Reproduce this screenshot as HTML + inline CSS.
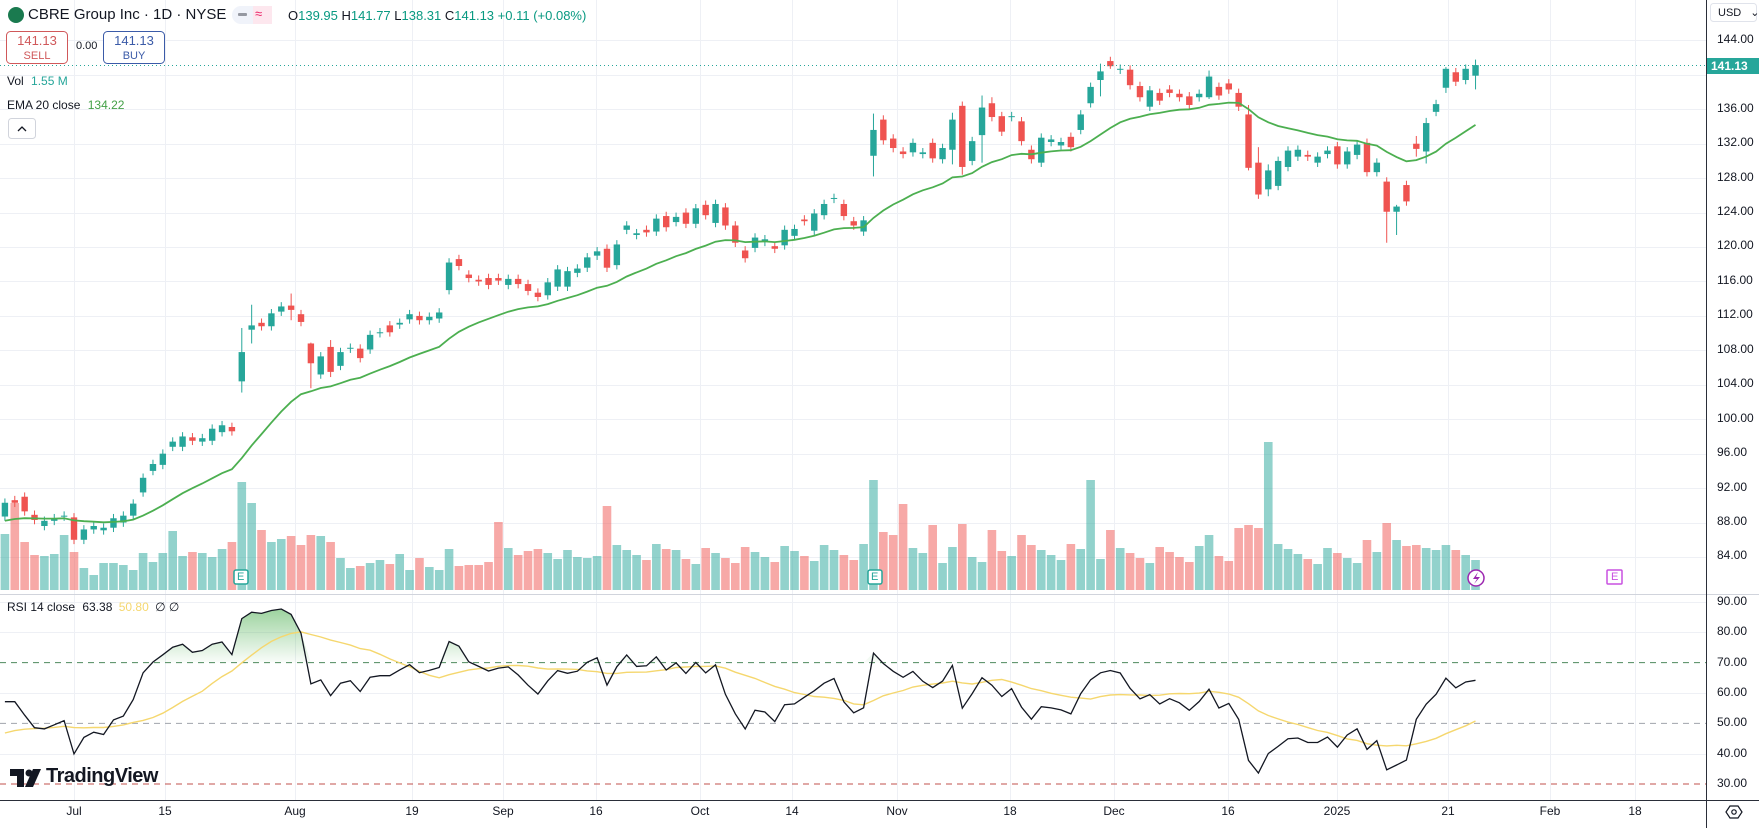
<!DOCTYPE html>
<html><head><meta charset="utf-8">
<style>
html,body{margin:0;padding:0;background:#fff;}
body{width:1759px;height:828px;position:relative;overflow:hidden;font-family:"Liberation Sans",sans-serif;color:#131722;}
.t{position:absolute;white-space:nowrap;}
.ax{position:absolute;left:1717px;font-size:12px;color:#131722;}
.tl{position:absolute;top:804px;font-size:12px;color:#131722;transform:translateX(-50%);}
svg{position:absolute;left:0;top:0;}
</style></head><body>
<svg id="s" width="1759" height="828" xmlns="http://www.w3.org/2000/svg">
<defs>
<linearGradient id="gf" x1="0" y1="0" x2="0" y2="1">
<stop offset="0" stop-color="#4caf50" stop-opacity="0.55"/>
<stop offset="1" stop-color="#4caf50" stop-opacity="0.03"/>
</linearGradient>
<clipPath id="cp"><rect x="0" y="0" width="1706" height="800"/></clipPath>
</defs>
<g id="grid"></g>
<g id="vol" clip-path="url(#cp)"></g>
<g id="rsi" clip-path="url(#cp)"></g>
<g id="cdl" clip-path="url(#cp)"></g>
<line x1="0" y1="594.5" x2="1759" y2="594.5" stroke="#d1d4dc" stroke-width="1"/>
<line x1="1706.5" y1="0" x2="1706.5" y2="828" stroke="#2a2e39" stroke-width="1"/>
<line x1="0" y1="800.5" x2="1759" y2="800.5" stroke="#2a2e39" stroke-width="1"/>
<line x1="0" y1="65.5" x2="1706" y2="65.5" stroke="#26a69a" stroke-width="1" stroke-dasharray="1,3"/>
<rect x="1707" y="58" width="52" height="16" fill="#26a69a"/>
<rect x="234" y="570" width="14" height="14" rx="2" fill="#fff" stroke="#26a69a" stroke-width="1.5"/>
<rect x="868" y="570" width="14" height="14" rx="2" fill="#fff" stroke="#26a69a" stroke-width="1.5"/>
<rect x="1607" y="570" width="15" height="14" rx="1" fill="#fff" stroke="#c850e0" stroke-width="1.5"/>
<circle cx="1476" cy="578" r="8" fill="#fff" stroke="#9c27b0" stroke-width="1.5"/>
<path d="M1478 572 L1473 579 L1477 579 L1474 584 L1480 577 L1476 577 Z" fill="#9c27b0"/>
<circle cx="16" cy="15" r="8" fill="#1a7a4f"/>
<rect x="232" y="6" width="40" height="18" rx="9" fill="#f0f3fa"/>
<rect x="253" y="6" width="19" height="18" rx="0" fill="#fde7ee"/>
<rect x="238" y="13" width="9" height="3" rx="1" fill="#9598a1"/>
<rect x="6.5" y="31.5" width="61" height="32" rx="4" fill="#fff" stroke="#d0585a"/>
<rect x="103.5" y="31.5" width="61" height="32" rx="4" fill="#fff" stroke="#3b5ba8"/>
<rect x="8.5" y="118.5" width="27" height="20" rx="3" fill="#fff" stroke="#d1d4dc"/>
<path d="M18 131 L22 127 L26 131" fill="none" stroke="#131722" stroke-width="1.3"/>
<rect x="1710.5" y="3.5" width="46" height="18" rx="3" fill="#fff" stroke="#e0e3eb"/>
<path d="M1726 812 L1730 806 L1738 806 L1742 812 L1738 818 L1730 818 Z" fill="none" stroke="#131722" stroke-width="1.2"/>
<circle cx="1734" cy="812" r="2.2" fill="none" stroke="#131722" stroke-width="1.2"/>
<path d="M10 769 h14 v18 h-7 v-11 h-7 z" fill="#131722"/>
<circle cx="29" cy="773" r="3.5" fill="#131722"/>
<path d="M33 769 h8 l-8 18 h-8 z" fill="#131722"/>
</svg>

<div class="t" style="left:28px;top:6px;font-size:15px;">CBRE Group Inc · 1D · NYSE</div>
<div class="t" style="left:255px;top:6px;font-size:13px;color:#e91e63;">≈</div>
<div class="t" style="left:288px;top:8px;font-size:13px;">O<span style="color:#089981">139.95</span> H<span style="color:#089981">141.77</span> L<span style="color:#089981">138.31</span> C<span style="color:#089981">141.13</span> <span style="color:#089981">+0.11 (+0.08%)</span></div>
<div class="t" style="left:6px;top:34px;width:62px;text-align:center;font-size:13px;color:#d0585a;line-height:14px;">141.13<br><span style="font-size:11px">SELL</span></div>
<div class="t" style="left:76px;top:40px;font-size:11px;">0.00</div>
<div class="t" style="left:103px;top:34px;width:62px;text-align:center;font-size:13px;color:#3b5ba8;line-height:14px;">141.13<br><span style="font-size:11px">BUY</span></div>
<div class="t" style="left:7px;top:74px;font-size:12px;">Vol <span style="color:#26a69a;margin-left:4px">1.55 M</span></div>
<div class="t" style="left:7px;top:98px;font-size:12px;">EMA 20 close <span style="color:#43a047;margin-left:4px">134.22</span></div>
<div class="t" style="left:7px;top:600px;font-size:12px;">RSI 14 close <span style="margin-left:4px">63.38</span> <span style="color:#f5d76e;margin-left:3px">50.80</span> <span style="margin-left:3px">∅ ∅</span></div>
<div class="t" style="left:46px;top:765px;font-size:20px;font-weight:bold;color:#131722;letter-spacing:-0.5px;">TradingView</div>
<div class="t" style="left:1718px;top:6px;font-size:11px;">USD <span style="margin-left:6px">⌄</span></div>
<div class="t" style="left:1611px;top:571px;font-size:11px;color:#c850e0;">E</div>
<div class="t" style="left:237px;top:571px;font-size:11px;color:#26a69a;">E</div>
<div class="t" style="left:871px;top:571px;font-size:11px;color:#26a69a;">E</div>
<div class="t" style="left:1711px;top:59px;font-size:12px;font-weight:bold;color:#fff;">141.13</div>

<div class="ax" style="top:32px">144.00</div>
<div class="ax" style="top:101px">136.00</div>
<div class="ax" style="top:135px">132.00</div>
<div class="ax" style="top:170px">128.00</div>
<div class="ax" style="top:204px">124.00</div>
<div class="ax" style="top:238px">120.00</div>
<div class="ax" style="top:273px">116.00</div>
<div class="ax" style="top:307px">112.00</div>
<div class="ax" style="top:342px">108.00</div>
<div class="ax" style="top:376px">104.00</div>
<div class="ax" style="top:411px">100.00</div>
<div class="ax" style="top:445px">96.00</div>
<div class="ax" style="top:480px">92.00</div>
<div class="ax" style="top:514px">88.00</div>
<div class="ax" style="top:548px">84.00</div>
<div class="ax" style="top:594px">90.00</div>
<div class="ax" style="top:624px">80.00</div>
<div class="ax" style="top:655px">70.00</div>
<div class="ax" style="top:685px">60.00</div>
<div class="ax" style="top:715px">50.00</div>
<div class="ax" style="top:746px">40.00</div>
<div class="ax" style="top:776px">30.00</div>

<div class="tl" style="left:74px">Jul</div>
<div class="tl" style="left:165px">15</div>
<div class="tl" style="left:295px">Aug</div>
<div class="tl" style="left:412px">19</div>
<div class="tl" style="left:503px">Sep</div>
<div class="tl" style="left:596px">16</div>
<div class="tl" style="left:700px">Oct</div>
<div class="tl" style="left:792px">14</div>
<div class="tl" style="left:897px">Nov</div>
<div class="tl" style="left:1010px">18</div>
<div class="tl" style="left:1114px">Dec</div>
<div class="tl" style="left:1228px">16</div>
<div class="tl" style="left:1337px">2025</div>
<div class="tl" style="left:1448px">21</div>
<div class="tl" style="left:1550px">Feb</div>
<div class="tl" style="left:1635px">18</div>

<script>
(function(){
var NS="http://www.w3.org/2000/svg";
function el(p,t,a){var e=document.createElementNS(NS,t);for(var k in a)e.setAttribute(k,a[k]);p.appendChild(e);return e;}
var oc=[[88.7,90.3],[90.6,90.3],[91,89.3],[88.9,88.3],[87.6,88.2],[88.2,88.5],[88.7,88.8],
[88.6,86],[86,87.2],[87.2,87.6],[87.1,87.4],[87.4,88.5],[88,88.8],[88.8,90.2],[91.5,93.2],[94,94.8],[94.7,96],
[96.8,97.4],[96.8,98],[97.9,97.5],[97.4,97.8],[97.5,98.9],[98.5,99.3],[99.1,98.6],[104.4,107.8],[110.4,110.9],
[111.2,110.8],[110.8,112.3],[112.5,113.1],[113.2,112.7],[112.2,111.3],[108.8,106.5],[105.2,107.3],[108.4,105.5],
[106.2,107.8],[108.2,108.3],[108.2,107.1],[108.1,109.8],[110,110.1],[110.9,110.1],[111,111.2],[111.6,112.2],
[112,111.5],[111.5,111.9],[111.7,112.4],[115,118.2],[118.6,117.8],[116.8,116.4],[116.2,116],[116.4,115.6],
[116.4,116.1],[115.6,116.3],[116.3,115.7],[115.7,114.9],[114.7,114.2],[114.4,115.9],[115.4,117.4],[115.4,117.2],
[117,117.5],[117.6,118.8],[119,119.5],[119.8,117.6],[117.9,120.3],[122,122.5],[121.4,121.6],[122,121.7],
[121.8,123.3],[123.6,122.3],[122.9,123.5],[124,122.7],[122.7,124.5],[124.9,123.7],[122.8,125],[124.6,122.5],
[122.5,120.5],[119.6,118.7],[119.9,121.1],[120.6,120.9],[120.1,119.8],[120.2,122],[121.3,122.1],[123.2,123],
[121.9,123.9],[123.7,125],[125.6,125.7],[125,123.6],[123,122.5],[121.8,123.1],[130.6,133.6],[134.8,132.4],
[132.6,131.5],[131.1,130.8],[131,132.1],[130.8,131],[132.1,130.3],[130.2,131.5],[131.3,134.8],[136.4,129.3],
[130,132.3],[133,136.2],[136.7,135.1],[135.2,133.4],[135.1,135.2],[134.6,132.3],[131.3,130.2],[129.8,132.7],
[132.2,132.5],[131.8,132.2],[132.8,131.6],[133.6,135.4],[136.7,138.6],[139.4,140.4],[141.6,141],[140.6,140.7],
[140.6,138.8],[138.7,137.4],[136.3,138.2],[137.9,137],[138.3,137.9],[137.8,137.4],[137.5,136.5],[137.4,137.8],
[137.4,139.8],[138.6,137.6],[139,138.3],[137.9,136.3],[135.4,129.2],[129.8,126.1],[126.7,128.9],[127.1,130],
[129.3,131.2],[130.5,131.3],[130.7,130.5],[129.8,130.5],[130.8,131.2],[131.7,129.6],[129.6,131.1],[130.7,131.9],
[132.1,128.7],[128.7,129.8],[127.6,124.1],[124.1,124.7],[127.2,125.3],[132,131.4],[131.1,134.4],[135.7,136.6],
[138.5,140.7],[140.3,139.2],[139.4,140.7],[139.9,141.13]];
var hlI={17:[110.6,103.1],18:[113.3,108.8],22:[114.6,111.5],24:[108.9,103.6],26:[109.2,104.9],81:[135.5,128.2],
89:[135.6,129.6],90:[136.9,128.4],92:[137.6,129.8],93:[137.4,134.6],119:[136.5,128.9],120:[131.6,125.6],121:[129.6,125.9],
133:[128.1,120.5],134:[124.9,121.4],136:[132.9,130.5],137:[135,129.7],139:[140.9,137.9],142:[141.77,138.31],104:[141.3,137.5],105:[142.1,140.7],115:[140.5,137.2]};
var hl={};for(var k in hlI)hl[+k+7]=hlI[k];
var v0=[56,87,48,35,34,36,55,38,22,15,27,27,25,20,37,28,37,59,34,38,37,33,41,48,108,87,60,48,51,54,45,55,54,48,32,22,24,27,30,26,36,20,32,23,20,41,24,25,25,28,68,42,35,39,41,37,31,40,33,32];
var vs={54:84,61:40,81:110,82:58,83:55,84:86,87:65,90:66,93:60,96:55,103:110,105:60,115:55,118:62,119:65,120:62,121:148,131:50,133:67,134:50,136:45,137:42,138:40};
function Y(p){return 40.4+(144-p)*8.61;}
function R(r){return 602+(90-r)*3.033;}
function X(i){return 74+(i-7)*9.87;}
var n=oc.length;
var g=document.getElementById('grid');
[74,165,295,412,503,596,700,792,897,1010,1114,1228,1337,1448,1550,1635].forEach(function(x){el(g,'line',{x1:x+.5,y1:0,x2:x+.5,y2:800,stroke:'#eef0f5'});});
for(var p=84;p<=144;p+=4){var y=Math.round(Y(p))+.5;el(g,'line',{x1:0,y1:y,x2:1706,y2:y,stroke:'#eef0f5'});}
[90,80,60,40].forEach(function(r){var y=Math.round(R(r))+.5;el(g,'line',{x1:0,y1:y,x2:1706,y2:y,stroke:'#eef0f5'});});
el(g,'line',{x1:0,y1:R(70),x2:1706,y2:R(70),stroke:'#4f8a5e','stroke-dasharray':'6,5'});
el(g,'line',{x1:0,y1:R(50),x2:1706,y2:R(50),stroke:'#a0a4ac','stroke-dasharray':'6,5'});
el(g,'line',{x1:0,y1:R(30),x2:1706,y2:R(30),stroke:'#c0504d','stroke-dasharray':'6,5'});
var v=document.getElementById('vol'),c=document.getElementById('cdl');
for(var i=0;i<n;i++){
 var o=oc[i][0],cl=oc[i][1],up=cl>=o,x=X(i);
 var h=Math.max(o,cl)+0.5,l=Math.min(o,cl)-0.5;if(hl[i]){h=hl[i][0];l=hl[i][1];}
 var ii=i-7,vh;
 if(i<v0.length)vh=v0[i];else vh=vs[ii]||(26+((ii*37)%21));
 el(v,'rect',{x:x-4.3,y:590-vh,width:8.6,height:vh,fill:up?'rgba(38,166,154,0.5)':'rgba(239,83,80,0.5)'});
 var col=up?'#26a69a':'#ef5350';
 el(c,'line',{x1:x,y1:Y(h),x2:x,y2:Y(l),stroke:col,'stroke-width':1});
 var yt=Y(Math.max(o,cl)),yb=Y(Math.min(o,cl));
 el(c,'rect',{x:x-3.2,y:yt,width:6.4,height:Math.max(1,yb-yt),fill:col});
}
var e=88.0,pts=[],k=2/21;
for(var i=0;i<n;i++){e=oc[i][1]*k+e*(1-k);pts.push(X(i).toFixed(1)+','+Y(e).toFixed(1));}
el(c,'polyline',{points:pts.join(' '),fill:'none',stroke:'#4caf50','stroke-width':1.8});
var ag=0.5,al=0.45,rs=[],prev=89.0;
for(var i=0;i<n;i++){var d=oc[i][1]-prev;prev=oc[i][1];ag=(ag*13+Math.max(d,0))/14;al=(al*13+Math.max(-d,0))/14;rs.push(100-100/(1+ag/al));}
var rg=document.getElementById('rsi');
var fp=[X(0)+','+R(70)];
for(var i=0;i<n;i++){fp.push(X(i)+','+Math.min(R(rs[i]),R(70)));}
fp.push(X(n-1)+','+R(70));
el(rg,'polygon',{points:fp.join(' '),fill:'url(#gf)'});
var hist=[];for(var j=0;j<14;j++)hist.push(46);
var ma=[];for(var i=0;i<n;i++){hist.push(rs[i]);var s=0;for(var j=hist.length-14;j<hist.length;j++)s+=hist[j];ma.push(s/14);}
el(rg,'polyline',{points:ma.map(function(m,i){return X(i).toFixed(1)+','+R(m).toFixed(1);}).join(' '),fill:'none',stroke:'#f5d76e','stroke-width':1.4});
el(rg,'polyline',{points:rs.map(function(m,i){return X(i).toFixed(1)+','+R(m).toFixed(1);}).join(' '),fill:'none',stroke:'#131722','stroke-width':1.3});
})();
</script>
</body></html>
